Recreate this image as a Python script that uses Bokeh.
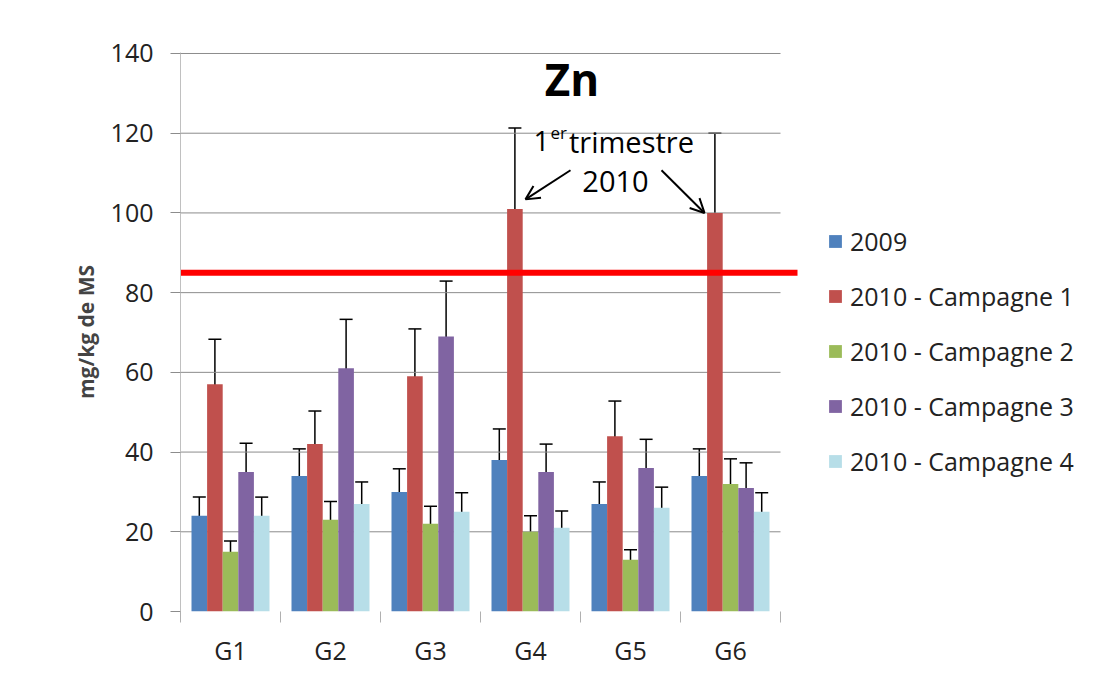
import numpy as np
from bokeh.plotting import figure
from bokeh.models import (Range1d, FixedTicker, Whisker, ColumnDataSource, Legend,
                          LegendItem, Arrow, OpenHead, TeeHead)
from bokeh.core.properties import value
from bokeh.embed import file_html
from bokeh.resources import INLINE

# ---- data ----
groups = ["G1", "G2", "G3", "G4", "G5", "G6"]
series = ["2009", "2010 - Campagne 1", "2010 - Campagne 2",
          "2010 - Campagne 3", "2010 - Campagne 4"]
colors = ["#4F81BD", "#C0504D", "#9BBB59", "#8064A2", "#B7DEE8"]

v2009 = [24, 34, 30, 38, 27, 34]
v_c1 = [57, 42, 59, 101, 44, 100]
v_c2 = [15, 23, 22, 20, 13, 32]
v_c3 = [35, 61, 69, 35, 36, 31]
v_c4 = [24, 27, 25, 21, 26, 25]

e2009 = [4.7, 6.8, 5.8, 7.8, 5.5, 6.8]
e_c1 = [11.3, 8.3, 11.9, 20.3, 8.8, 20.0]
e_c2 = [2.7, 4.6, 4.4, 4.0, 2.5, 6.3]
e_c3 = [7.2, 12.3, 13.9, 7.0, 7.2, 6.3]
e_c4 = [4.7, 5.5, 4.8, 4.2, 5.2, 4.8]

threshold = 85
y_ticks = [0, 20, 40, 60, 80, 100, 120, 140]

values = [v2009, v_c1, v_c2, v_c3, v_c4]
errors = [e2009, e_c1, e_c2, e_c3, e_c4]

FONT = "Open Sans"
W, H = 1113, 689

# the frame runs to the right edge so the legend can sit inside it
p = figure(width=W, height=H, x_range=Range1d(0, 9.33), y_range=Range1d(0, 140.25),
           output_backend="svg", toolbar_location=None,
           min_border_left=180, min_border_right=0, min_border_top=52, min_border_bottom=78)
p.outline_line_color = None
p.xgrid.grid_line_color = None
p.ygrid.grid_line_color = None
p.background_fill_color = "white"
p.border_fill_color = "white"

# manual horizontal gridlines (stop at the last category)
ng = len(groups)
gl = y_ticks[1:]
p.segment(x0=[0] * len(gl), x1=[ng] * len(gl), y0=gl, y1=gl, line_color="#8c8c8c", line_width=1)

# bars
bw = 0.156
centers = np.arange(ng) + 0.5
renderers = []
for k, (vals, errs, col) in enumerate(zip(values, errors, colors)):
    xs = centers + (k - 2) * bw
    src = ColumnDataSource(dict(x=xs, top=vals,
                                upper=np.array(vals) + np.array(errs),
                                lower=np.array(vals) - np.array(errs)))
    r = p.vbar(x="x", top="top", width=bw, source=src, fill_color=col, line_color=None)
    renderers.append(r)
    w = Whisker(source=src, base="x", upper="upper", lower="lower", dimension="height",
                line_color="black", line_width=1.5,
                upper_head=TeeHead(size=13, line_color="black", line_width=1.5),
                lower_head=TeeHead(size=13, line_color="black", line_width=1.5))
    p.add_layout(w)

# threshold line (runs a little past the last category)
p.segment(x0=[0], x1=[ng + 0.17], y0=[threshold], y1=[threshold],
          line_color="#FF0000", line_width=6)

# title inside the plot
p.text(x=[3.915], y=[133.6], text=["Zn"], text_font=value(FONT), text_font_style="bold",
       text_font_size="44px", text_align="center", text_baseline="middle", text_color="black")

# annotation
p.text(x=[3.69], y=[118.0], text=["1"], text_font=value(FONT), text_font_size="28px",
       text_align="right", text_baseline="middle", text_color="black")
p.text(x=[3.70], y=[120.3], text=["er"], text_font=value(FONT), text_font_size="17px",
       text_align="left", text_baseline="middle", text_color="black")
p.text(x=[3.885], y=[118.0], text=["trimestre"], text_font=value(FONT), text_font_size="29px",
       text_align="left", text_baseline="middle", text_color="black")
p.text(x=[4.35], y=[107.8], text=["2010"], text_font=value(FONT), text_font_size="29px",
       text_align="center", text_baseline="middle", text_color="black")
p.add_layout(Arrow(end=OpenHead(size=14, line_width=2, line_color="black"),
                   x_start=3.90, y_start=110.7, x_end=3.45, y_end=103.4,
                   line_width=2, line_color="black"))
p.add_layout(Arrow(end=OpenHead(size=14, line_width=2, line_color="black"),
                   x_start=4.81, y_start=110.7, x_end=5.24, y_end=100.0,
                   line_width=2, line_color="black"))

# axes
p.yaxis.ticker = FixedTicker(ticks=y_ticks, minor_ticks=[])
p.yaxis.axis_line_color = "#c0c0c0"
p.yaxis.major_tick_line_color = "#8c8c8c"
p.yaxis.major_tick_out = 10
p.yaxis.major_tick_in = 0
p.yaxis.major_label_standoff = 17
p.yaxis.major_label_text_font = FONT
p.yaxis.major_label_text_font_size = "25px"
p.yaxis.major_label_text_color = "#222222"
p.yaxis.axis_label = "mg/kg de MS"
p.yaxis.axis_label_text_font = FONT
p.yaxis.axis_label_text_font_style = "bold"
p.yaxis.axis_label_text_font_size = "21px"
p.yaxis.axis_label_standoff = 8

p.xaxis.ticker = FixedTicker(ticks=list(centers), minor_ticks=list(range(ng + 1)))
p.xaxis.major_label_overrides = {float(c): g for c, g in zip(centers, groups)}
p.xaxis.axis_line_color = None
p.xaxis.major_tick_line_color = None
p.xaxis.major_tick_out = 0
p.xaxis.major_tick_in = 0
p.xaxis.minor_tick_line_color = "#b0b0b0"
p.xaxis.minor_tick_out = 11
p.xaxis.minor_tick_in = 0
p.xaxis.major_label_standoff = 10
p.xaxis.major_label_text_font = FONT
p.xaxis.major_label_text_font_size = "25px"
p.xaxis.major_label_text_color = "#222222"

legend = Legend(items=[LegendItem(label=s, renderers=[r]) for s, r in zip(series, renderers)],
                location=(647, 133), orientation="vertical", glyph_width=16, glyph_height=16,
                label_height=34, spacing=21, padding=0, margin=0, border_line_color=None,
                background_fill_alpha=0, label_text_font=FONT, label_text_font_size="25px",
                label_standoff=7, label_text_color="#222222")
p.add_layout(legend)

open("out.html", "w").write(file_html(p, INLINE))
